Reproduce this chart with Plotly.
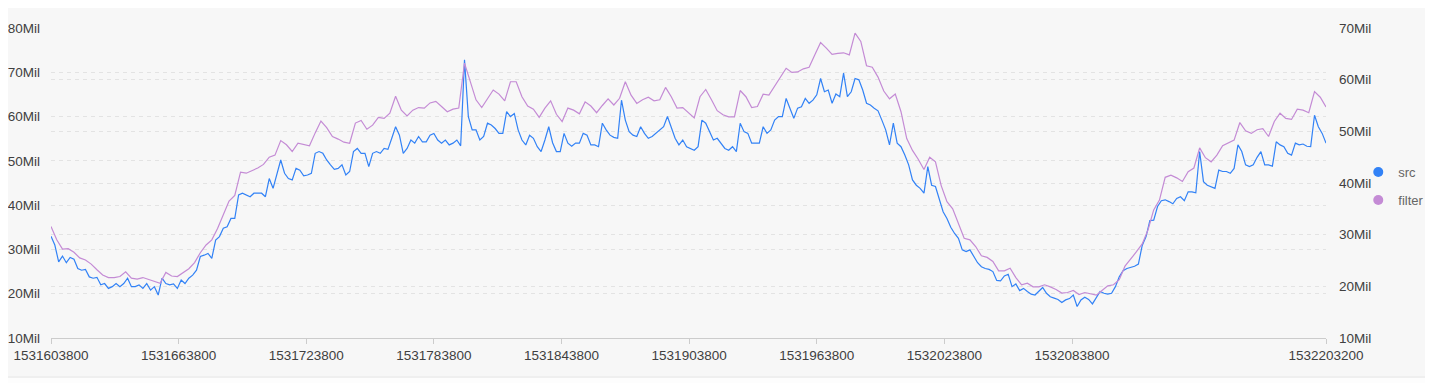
import plotly.graph_objects as go

# ---- data (values in millions) ----
t_start = 1531603800
t_end = 1532203200
src_step = 1800
filter_step = 2700

src_vals = [
    33.0, 31.0, 27.2, 28.5, 27.0, 28.2, 27.8, 25.7, 25.3, 25.5,
    23.8, 23.5, 23.7, 22.0, 22.3, 21.2, 21.6, 22.3, 21.6, 22.3,
    23.5, 21.6, 21.6, 22.0, 21.2, 22.3, 20.8, 21.6, 19.7, 23.5,
    22.3, 22.0, 22.2, 21.2, 23.1, 22.3, 23.5, 24.2, 25.3, 28.4,
    28.7, 29.1, 28.0, 32.1, 32.9, 34.8, 35.1, 37.0, 37.0, 42.3,
    42.7, 42.3, 41.9, 42.7, 42.7, 42.7, 41.9, 46.0, 43.8, 46.8,
    50.2, 47.2, 46.0, 45.7, 48.3, 47.9, 46.6, 46.8, 47.2, 51.7,
    52.1, 51.7, 50.2, 49.1, 48.1, 48.3, 49.1, 46.8, 47.6, 52.1,
    52.8, 51.7, 51.7, 48.7, 51.7, 52.1, 51.7, 52.8, 52.6, 55.1,
    57.7, 55.8, 51.7, 52.8, 54.7, 54.0, 55.5, 54.3, 54.3, 55.8,
    56.2, 54.7, 54.0, 54.7, 53.6, 54.0, 54.7, 53.4, 72.8, 60.0,
    57.0, 57.0, 54.7, 55.5, 58.5, 58.1, 57.3, 56.2, 56.2, 61.1,
    60.0, 60.7, 57.0, 54.7, 53.6, 55.8, 55.1, 53.2, 52.1, 54.7,
    57.7, 54.1, 52.1, 52.1, 56.2, 54.0, 53.3, 54.0, 54.0, 56.2,
    55.8, 53.6, 53.6, 53.2, 58.5, 57.0, 55.8, 55.3, 55.1, 63.7,
    59.2, 56.6, 55.8, 55.5, 57.7, 56.2, 55.1, 55.5, 56.2, 57.0,
    57.7, 60.0, 57.3, 55.1, 53.6, 54.7, 53.2, 52.8, 52.4, 53.2,
    59.2, 58.5, 56.6, 54.7, 55.1, 54.0, 52.8, 52.4, 53.2, 52.1,
    58.5, 56.6, 56.2, 54.0, 54.0, 54.0, 57.7, 56.2, 57.0, 59.2,
    60.0, 60.0, 64.1, 61.9, 59.6, 61.9, 62.2, 64.1, 63.0, 63.7,
    64.9, 68.6, 65.6, 66.0, 63.0, 65.1, 64.5, 69.8, 64.5, 65.6,
    68.6, 68.3, 66.0, 63.0, 62.6, 61.9, 61.3, 59.2, 57.0, 53.6,
    58.5, 54.0, 53.2, 51.3, 49.1, 45.7, 44.5, 43.8, 42.7, 48.7,
    44.5, 44.2, 41.2, 38.5, 37.0, 35.0, 33.6, 32.5, 29.9, 29.5,
    29.9, 28.5, 27.0, 26.1, 25.7, 25.5, 25.0, 23.0, 22.9, 24.0,
    24.4, 21.6, 22.2, 20.7, 21.2, 20.5, 19.9, 19.7, 20.5, 21.4,
    20.1, 19.3, 19.0, 18.7, 18.0, 18.6, 18.9, 19.7, 17.1, 18.6,
    19.2, 18.7, 17.7, 19.2, 20.5, 20.1, 19.9, 20.1, 21.6, 23.8,
    25.2, 25.7, 26.0, 26.2, 26.7, 30.9, 32.9, 36.5, 36.6, 39.7,
    41.0, 41.2, 40.8, 40.3, 41.5, 41.9, 41.0, 43.0, 43.0, 42.8,
    52.1, 45.3, 44.5, 44.2, 43.8, 47.9, 47.6, 47.6, 47.2, 48.3,
    53.6, 52.1, 49.1, 48.7, 49.1, 50.8, 52.1, 49.1, 49.1, 48.8,
    54.3, 53.6, 53.2, 51.7, 51.3, 54.0, 53.6, 53.8, 53.3, 53.2,
    60.3, 57.7, 56.2, 54.0,
]

filter_vals = [
    31.6, 29.0, 27.2, 27.3, 26.6, 25.5, 25.1, 24.3, 23.2, 22.2,
    21.7, 21.7, 21.9, 22.8, 21.6, 21.4, 21.7, 21.3, 21.0, 20.6,
    22.7, 22.0, 21.9, 22.7, 23.4, 24.6, 26.5, 28.0, 29.0, 31.2,
    33.9, 36.5, 37.6, 42.1, 41.9, 42.4, 42.9, 43.6, 45.0, 45.4,
    48.2, 47.4, 46.1, 47.7, 47.4, 47.2, 49.7, 52.0, 50.7, 49.0,
    48.5, 47.9, 47.7, 51.6, 52.1, 50.4, 51.2, 52.7, 52.5, 53.5,
    56.8, 54.1, 53.0, 54.1, 54.6, 54.5, 55.5, 55.8, 54.8, 53.8,
    54.3, 54.5, 63.2, 59.6, 56.1, 54.6, 56.4, 58.0, 57.2, 55.9,
    59.6, 59.6, 56.7, 54.9, 54.3, 52.7, 54.5, 55.9, 53.3, 51.9,
    54.5, 54.1, 53.4, 55.7, 54.9, 53.6, 55.0, 56.3, 55.1, 56.4,
    59.6, 57.0, 55.4, 56.1, 56.6, 55.9, 56.1, 58.5, 56.7, 54.5,
    54.6, 53.5, 52.6, 56.7, 58.1, 56.1, 54.0, 53.2, 52.8, 52.8,
    57.9, 56.7, 54.6, 54.8, 57.2, 57.0, 58.8, 60.5, 62.2, 61.4,
    61.5, 62.1, 62.4, 64.8, 67.2, 66.1, 64.9, 65.1, 65.2, 64.8,
    69.0, 67.4, 62.7, 62.4, 60.5, 57.8, 56.3, 57.2, 53.8, 48.6,
    46.3, 44.6, 42.6, 45.0, 44.1, 39.5, 36.4, 35.0, 32.2, 29.3,
    29.0, 27.7, 25.9, 25.6, 24.8, 23.0, 23.0, 23.5, 21.7, 20.3,
    20.6, 19.9, 19.9, 20.3, 19.9, 19.4, 18.7, 18.8, 19.2, 18.4,
    18.8, 18.5, 18.3, 19.2, 20.1, 20.3, 21.3, 23.9, 25.2, 26.7,
    28.2, 30.9, 34.8, 36.7, 41.1, 41.5, 41.0, 40.3, 42.2, 42.9,
    46.8, 44.9, 44.1, 45.4, 47.2, 47.7, 48.3, 51.7, 50.1, 49.6,
    50.3, 50.5, 49.0, 51.9, 53.5, 52.5, 52.3, 54.3, 54.1, 53.6,
    57.7, 56.6, 54.7,
]

left_ticks = [10, 20, 30, 40, 50, 60, 70, 80]
right_ticks = [10, 20, 30, 40, 50, 60, 70]
x_ticks = [1531603800, 1531663800, 1531723800, 1531783800, 1531843800,
           1531903800, 1531963800, 1532023800, 1532083800, 1532203200]

src_x = [t_start + src_step * i for i in range(len(src_vals))]
filter_x = [t_start + filter_step * i for i in range(len(filter_vals))]

SRC_COLOR = "#3282f6"
FILTER_COLOR = "#c48bd5"
TEXT_COLOR = "#404040"
GRID_COLOR = "#e3e3e3"
FONT = "Liberation Sans, Arial, sans-serif"

fig = go.Figure()
fig.add_trace(go.Scatter(x=src_x, y=src_vals, mode="lines", name="src",
                         line=dict(color=SRC_COLOR, width=1.2),
                         showlegend=False, yaxis="y"))
fig.add_trace(go.Scatter(x=filter_x, y=filter_vals, mode="lines", name="filter",
                         line=dict(color=FILTER_COLOR, width=1.2),
                         showlegend=False, yaxis="y2"))
# legend entries (circle markers)
fig.add_trace(go.Scatter(x=[None], y=[None], mode="markers", name="src",
                         legendgroup="a",
                         marker=dict(color=SRC_COLOR, size=10)))
fig.add_trace(go.Scatter(x=[None], y=[None], mode="markers", name="filter",
                         legendgroup="b",
                         marker=dict(color=FILTER_COLOR, size=10)))

# the page body adds an 8px offset, so the figure is sized to fit the window
fig.update_layout(
    width=1425, height=375,
    margin=dict(l=43, r=107, t=20, b=45, autoexpand=False),
    paper_bgcolor="#fdfdfd",
    plot_bgcolor="rgba(0,0,0,0)",
    font=dict(family=FONT, size=13.5, color=TEXT_COLOR),
    xaxis=dict(
        range=[t_start, t_end],
        tickvals=x_ticks,
        ticktext=[str(v) for v in x_ticks],
        showgrid=False, zeroline=False, automargin=False,
        showline=True, linecolor="#cccccc", linewidth=1,
        ticks="outside", ticklen=5, tickcolor="#cccccc",
        tickfont=dict(size=13.5, color=TEXT_COLOR),
    ),
    yaxis=dict(
        range=[10, 80],
        tickvals=left_ticks,
        ticktext=[f"{v}Mil" for v in left_ticks],
        showgrid=True, gridcolor=GRID_COLOR, griddash="4px,4px", gridwidth=1,
        zeroline=False, showline=False, ticks="", automargin=False,
        ticklabelstandoff=10,
    ),
    yaxis2=dict(
        range=[10, 70],
        overlaying="y", side="right",
        tickvals=right_ticks,
        ticktext=[f"{v}Mil" for v in right_ticks],
        showgrid=True, gridcolor=GRID_COLOR, griddash="4px,4px", gridwidth=1,
        zeroline=False, showline=False, ticks="", automargin=False,
        ticklabelstandoff=12,
    ),
    legend=dict(
        x=1.081, y=0.49, xanchor="right", yanchor="middle",
        bgcolor="rgba(0,0,0,0)", font=dict(size=13, color="#666666"),
        traceorder="grouped", tracegroupgap=8, itemwidth=30,
    ),
    shapes=[
        dict(type="rect", xref="paper", yref="paper",
             x0=-0.05, x1=1.08, y0=-0.126, y1=1.2,
             fillcolor="#f7f7f7", line=dict(color="#e4e4e4", width=1),
             layer="below"),
    ],
    hovermode="x unified",
)

fig.write_html("out.html")
